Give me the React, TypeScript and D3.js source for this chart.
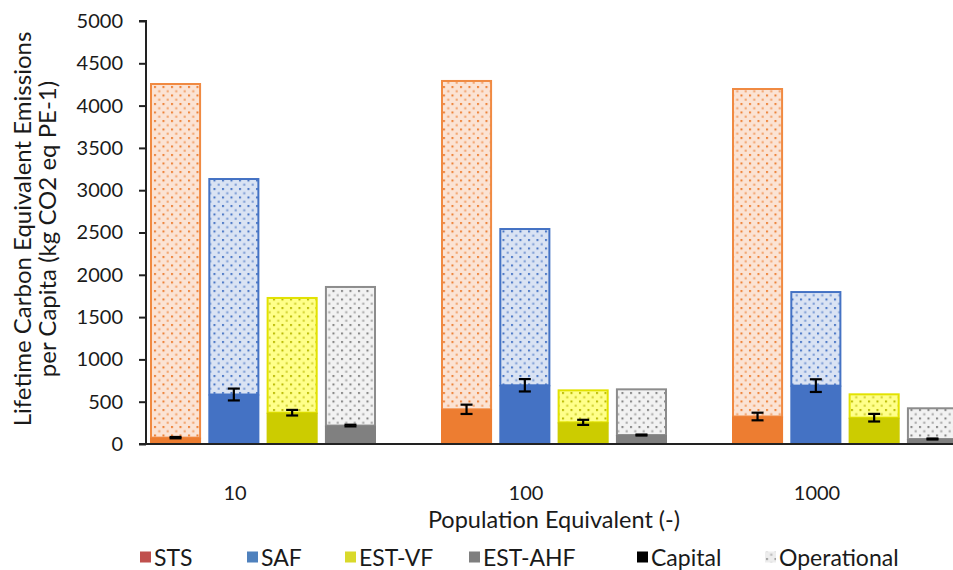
import React, { useEffect, useRef } from "react";
import * as d3 from "d3";

// Population equivalent categories
const categories = ["10", "100", "1000"];
const seriesNames = ["STS", "SAF", "EST-VF", "EST-AHF"];

// Capital emissions (kg CO2 eq PE-1) per series, per category
const capitalSTS = [75, 410, 325];
const capitalSAF = [585, 694, 690];
const capitalVF = [370, 256, 311];
const capitalAHF = [218, 106, 59];

// Operational emissions stacked on top of capital
const operationalSTS = [4192, 3893, 3883];
const operationalSAF = [2559, 1859, 1118];
const operationalVF = [1368, 390, 288];
const operationalAHF = [1650, 552, 375];

// Error (±) on the capital component
const errorSTS = [8, 55, 45];
const errorSAF = [70, 73, 75];
const errorVF = [33, 30, 45];
const errorAHF = [10, 6, 6];

const yTicks = [0, 500, 1000, 1500, 2000, 2500, 3000, 3500, 4000, 4500, 5000];

const solidColors = ["#ED7D31", "#4472C4", "#CCCC00", "#808080"];
const lightColors = ["#FBE3D4", "#DAE3F3", "#FFFF8A", "#F2F2F2"];
const borderColors = ["#F08A42", "#4472C4", "#E2E200", "#8C8C8C"];
const dotColors = ["#ED7D31", "#4472C4", "#B8B800", "#808080"];

const legendItems = [
  { label: "STS", color: "#C0504D" },
  { label: "SAF", color: "#4F81BD" },
  { label: "EST-VF", color: "#D9D92B" },
  { label: "EST-AHF", color: "#7F7F7F" },
  { label: "Capital", color: "#000000" },
  { label: "Operational", color: "url(#pat-legend)" },
];

const FONT = "Lato, 'Open Sans', sans-serif";
const TEXT = "#1a1a1a";

export default function App() {
  const ref = useRef<SVGSVGElement | null>(null);

  useEffect(() => {
    const W = 953;
    const H = 570;
    const svg = d3.select(ref.current);
    svg.selectAll("*").remove();

    const capital = [capitalSTS, capitalSAF, capitalVF, capitalAHF];
    const operational = [operationalSTS, operationalSAF, operationalVF, operationalAHF];
    const errors = [errorSTS, errorSAF, errorVF, errorAHF];

    const axisX = 146;
    const y = d3.scaleLinear().domain([0, 5000]).range([444, 21]);

    // Category band centred on its tick label
    const x0 = d3.scaleBand<string>().domain(categories).range([89.5, 962.5]).padding(0);
    const x1 = d3
      .scaleBand<string>()
      .domain(seriesNames)
      .range([60.5, 286.5])
      .paddingInner(0.124)
      .paddingOuter(0);

    const defs = svg.append("defs");
    const addPattern = (id: string, bg: string, dot: string) => {
      const p = defs
        .append("pattern")
        .attr("id", id)
        .attr("patternUnits", "userSpaceOnUse")
        .attr("width", 8.5)
        .attr("height", 8.5);
      p.append("rect").attr("width", 8.5).attr("height", 8.5).attr("fill", bg);
      p.append("rect").attr("x", 1).attr("y", 1).attr("width", 2).attr("height", 2).attr("fill", dot);
      p.append("rect").attr("x", 5.25).attr("y", 5.25).attr("width", 2).attr("height", 2).attr("fill", dot).attr("opacity", 0.7);
    };
    seriesNames.forEach((s, i) => addPattern(`pat-${i}`, lightColors[i], dotColors[i]));
    addPattern("pat-legend", "#EDEDED", "#9A9A9A");

    const g = svg.append("g");

    categories.forEach((cat, ci) => {
      const bx = x0(cat)!;
      seriesNames.forEach((s, si) => {
        const left = bx + x1(s)!;
        const bw = x1.bandwidth();
        const cap = capital[si][ci];
        const total = cap + operational[si][ci];
        // operational segment (patterned)
        g.append("rect")
          .attr("x", left + 1)
          .attr("y", y(total) + 1)
          .attr("width", bw - 2)
          .attr("height", y(cap) - y(total) - 1)
          .attr("fill", `url(#pat-${si})`)
          .attr("stroke", borderColors[si])
          .attr("stroke-width", 2);
        // capital segment (solid)
        g.append("rect")
          .attr("x", left)
          .attr("y", y(cap))
          .attr("width", bw)
          .attr("height", y(0) - y(cap))
          .attr("fill", solidColors[si]);
        // error bar
        const cx = left + bw / 2;
        const e = errors[si][ci];
        const eg = g.append("g").attr("stroke", "#000").attr("stroke-width", 2.2);
        eg.append("line").attr("x1", cx).attr("x2", cx).attr("y1", y(cap - e)).attr("y2", y(cap + e));
        eg.append("line").attr("x1", cx - 6).attr("x2", cx + 6).attr("y1", y(cap - e)).attr("y2", y(cap - e));
        eg.append("line").attr("x1", cx - 6).attr("x2", cx + 6).attr("y1", y(cap + e)).attr("y2", y(cap + e));
      });
    });

    // Y axis
    const yAxis = d3
      .axisLeft(y)
      .tickValues(yTicks)
      .tickSize(7)
      .tickPadding(16)
      .tickFormat((d) => String(d));
    const ya = svg.append("g").attr("transform", `translate(${axisX},0)`).call(yAxis);
    ya.select(".domain").attr("stroke", "#222").attr("stroke-width", 2).attr("d", `M-7,${y(5000)}H0V${y(0)}`);
    ya.selectAll(".tick line").attr("stroke", "#222").attr("stroke-width", 2);
    ya.selectAll(".tick text")
      .attr("font-family", FONT)
      .attr("font-size", 20)
      .attr("fill", TEXT);

    // X axis baseline
    svg
      .append("line")
      .attr("x1", axisX - 7)
      .attr("x2", W)
      .attr("y1", y(0))
      .attr("y2", y(0))
      .attr("stroke", "#222")
      .attr("stroke-width", 2);

    // Category labels
    categories.forEach((cat) => {
      svg
        .append("text")
        .attr("x", x0(cat)! + x0.bandwidth() / 2)
        .attr("y", 492)
        .attr("text-anchor", "middle")
        .attr("dominant-baseline", "central")
        .attr("font-family", FONT)
        .attr("font-size", 20)
        .attr("fill", TEXT)
        .text(cat);
    });

    // Axis titles
    svg
      .append("text")
      .attr("x", 554)
      .attr("y", 519)
      .attr("text-anchor", "middle")
      .attr("dominant-baseline", "central")
      .attr("font-family", FONT)
      .attr("font-size", 23.5)
      .attr("fill", TEXT)
      .text("Population Equivalent (-)");

    const yt = svg
      .append("text")
      .attr("transform", "translate(33,229) rotate(-90)")
      .attr("text-anchor", "middle")
      .attr("dominant-baseline", "central")
      .attr("font-family", FONT)
      .attr("font-size", 24)
      .attr("fill", TEXT);
    yt.append("tspan").attr("x", 0).attr("dy", -12).text("Lifetime Carbon Equivalent Emissions");
    yt.append("tspan").attr("x", 0).attr("dy", 25).text("per Capita (kg CO2 eq PE-1)");

    // Legend
    const legendX = [140, 247, 345, 469, 637, 765];
    legendItems.forEach((item, i) => {
      const lg = svg.append("g").attr("transform", `translate(${legendX[i]},557)`);
      lg.append("rect").attr("x", 0).attr("y", -5.5).attr("width", 11).attr("height", 11).attr("fill", item.color);
      lg.append("text")
        .attr("x", 14)
        .attr("y", 0)
        .attr("dominant-baseline", "central")
        .attr("font-family", FONT)
        .attr("font-size", 23)
        .attr("fill", TEXT)
        .text(item.label);
    });

    svg.attr("width", W).attr("height", H);
  }, []);

  return (
    <svg
      ref={ref}
      width={953}
      height={570}
      style={{ position: "absolute", left: 0, top: 0, background: "#fff" }}
    />
  );
}
